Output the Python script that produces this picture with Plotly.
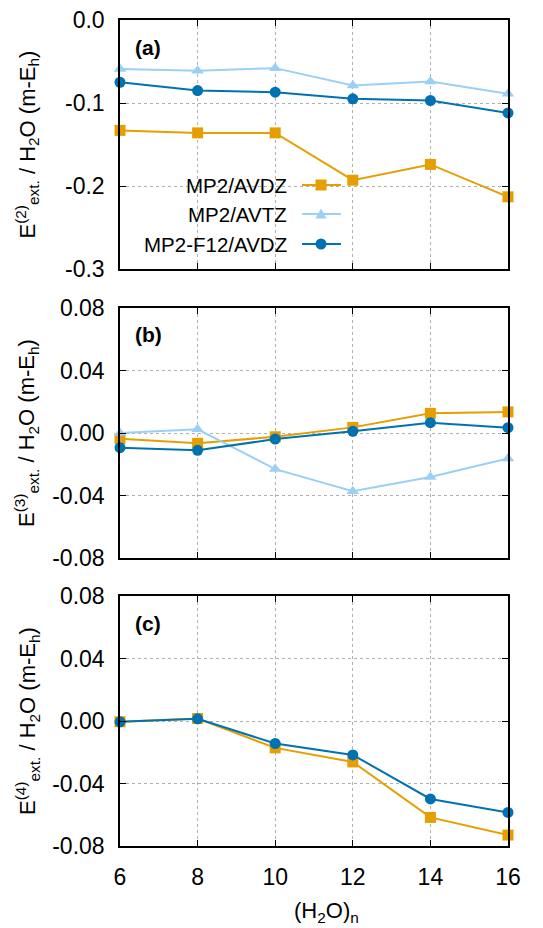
import plotly.graph_objects as go
from plotly.subplots import make_subplots

n = [6, 8, 10, 12, 14, 16]

# panel (a): E(2)
a_avdz = [-0.133, -0.136, -0.136, -0.193, -0.174, -0.213]
a_avtz = [-0.059, -0.061, -0.058, -0.079, -0.074, -0.089]
a_f12 = [-0.075, -0.085, -0.087, -0.095, -0.097, -0.112]

# panel (b): E(3)
b_avdz = [-0.0036, -0.0066, -0.0024, 0.0036, 0.0126, 0.0135]
b_avtz = [0.0000, 0.0024, -0.0231, -0.0372, -0.0282, -0.0163]
b_f12 = [-0.0094, -0.0111, -0.0039, 0.0011, 0.0066, 0.0034]

# panel (c): E(4)
c_avdz = [-0.0005, 0.0016, -0.0172, -0.0262, -0.0617, -0.0730]
c_f12 = [-0.0005, 0.0014, -0.0144, -0.0217, -0.0499, -0.0585]

# tick labels
a_ticks = [0.0, -0.1, -0.2, -0.3]
a_ticklabels = ["0.0", "-0.1", "-0.2", "-0.3"]
bc_ticks = [0.08, 0.04, 0.0, -0.04, -0.08]
bc_ticklabels = ["0.08", "0.04", "0.00", "-0.04", "-0.08"]

names = ["MP2/AVDZ", "MP2/AVTZ", "MP2-F12/AVDZ"]
colors = ["#E69F00", "#9AD0F5", "#0072B2"]
symbols = ["square", "triangle-up", "circle"]

W, H = 543, 928
FONT = "Liberation Sans, Arial, Helvetica, sans-serif"

fig = make_subplots(rows=3, cols=1)

panels = [
    (1, [a_avdz, a_avtz, a_f12]),
    (2, [b_avdz, b_avtz, b_f12]),
    (3, [c_avdz, None, c_f12]),
]
for row, series in panels:
    for i, ys in enumerate(series):
        if ys is None:
            continue
        fig.add_trace(go.Scatter(
            x=n, y=ys, mode="lines+markers", name=names[i], showlegend=False,
            line=dict(color=colors[i], width=2),
            marker=dict(symbol=symbols[i], size=11, color=colors[i]),
            cliponaxis=False,
        ), row=row, col=1)

px = lambda v: v / W
py = lambda v: 1 - v / H

xdom = [px(120), px(508)]
ydoms = [[py(269), py(20)], [py(558), py(308)], [py(846), py(596)]]

axis_common = dict(
    showline=True, linecolor="black", linewidth=1.5, mirror="ticks",
    ticks="inside", ticklen=6, tickcolor="black", tickwidth=1.2,
    showgrid=True, gridcolor="#b0b0b0", griddash="dot", gridwidth=1,
    zeroline=False, tickfont=dict(size=23, color="black", family=FONT),
    automargin=False,
)

for k in range(3):
    xa = "xaxis" if k == 0 else f"xaxis{k+1}"
    ya = "yaxis" if k == 0 else f"yaxis{k+1}"
    fig.layout[xa].update(domain=xdom, range=[6, 16], tickvals=n,
                          showticklabels=(k == 2), ticklabelstandoff=10, **axis_common)
    if k == 0:
        fig.layout[ya].update(domain=ydoms[k], range=[-0.3, 0.0], tickvals=a_ticks,
                              ticktext=a_ticklabels, ticklabelstandoff=9, **axis_common)
    else:
        fig.layout[ya].update(domain=ydoms[k], range=[-0.08, 0.08], tickvals=bc_ticks,
                              ticktext=bc_ticklabels, ticklabelstandoff=9, **axis_common)

annotations = []
# y-axis titles
for k, order in enumerate(["2", "3", "4"]):
    yc = (ydoms[k][0] + ydoms[k][1]) / 2
    annotations.append(dict(
        x=px(27), y=yc, xref="paper", yref="paper", showarrow=False, textangle=-90,
        text=f"E<sup>({order})</sup><sub>ext.</sub> / H<sub>2</sub>O (m-E<sub>h</sub>)",
        font=dict(size=22, color="black", family=FONT), xanchor="center", yanchor="middle",
    ))
# panel labels
for lab, yy in [("(a)", 48), ("(b)", 335), ("(c)", 623)]:
    annotations.append(dict(
        x=px(148), y=py(yy), xref="paper", yref="paper", showarrow=False,
        text=f"<b>{lab}</b>", font=dict(size=21, color="black", family=FONT),
        xanchor="center", yanchor="middle",
    ))
# x-axis title
annotations.append(dict(
    x=px(326), y=py(912), xref="paper", yref="paper", showarrow=False,
    text="(H<sub>2</sub>O)<sub>n</sub>", font=dict(size=22, color="black", family=FONT),
    xanchor="center", yanchor="middle",
))

# manual legend inside panel (a): text right-aligned, sample on right
shapes = []
leg_rows = [185, 214, 244]
for i, ry in enumerate(leg_rows):
    annotations.append(dict(
        x=px(289), y=py(ry), xref="paper", yref="paper", showarrow=False,
        text=names[i], font=dict(size=20.5, color="black", family=FONT),
        xanchor="right", yanchor="middle",
    ))
    shapes.append(dict(type="line", xref="paper", yref="paper",
                       x0=px(302), x1=px(341), y0=py(ry), y1=py(ry),
                       line=dict(color=colors[i], width=2)))
    cx, cy, r = 321, ry, 5.5
    if symbols[i] == "square":
        shapes.append(dict(type="rect", xref="paper", yref="paper",
                           x0=px(cx - r), x1=px(cx + r), y0=py(cy + r), y1=py(cy - r),
                           fillcolor=colors[i], line=dict(width=0)))
    elif symbols[i] == "circle":
        shapes.append(dict(type="circle", xref="paper", yref="paper",
                           x0=px(cx - r), x1=px(cx + r), y0=py(cy + r), y1=py(cy - r),
                           fillcolor=colors[i], line=dict(width=0)))
    else:
        path = (f"M {px(cx - r)} {py(cy + r*0.8)} L {px(cx + r)} {py(cy + r*0.8)} "
                f"L {px(cx)} {py(cy - r)} Z")
        shapes.append(dict(type="path", xref="paper", yref="paper", path=path,
                           fillcolor=colors[i], line=dict(width=0)))

fig.update_layout(
    width=W, height=H, margin=dict(l=0, r=0, t=0, b=0, autoexpand=False),
    paper_bgcolor="white", plot_bgcolor="white",
    font=dict(family=FONT, color="black"),
    annotations=annotations, shapes=shapes, showlegend=False,
)

fig.write_html("out.html",
               post_script="document.body.style.margin='0';document.body.style.padding='0';")
